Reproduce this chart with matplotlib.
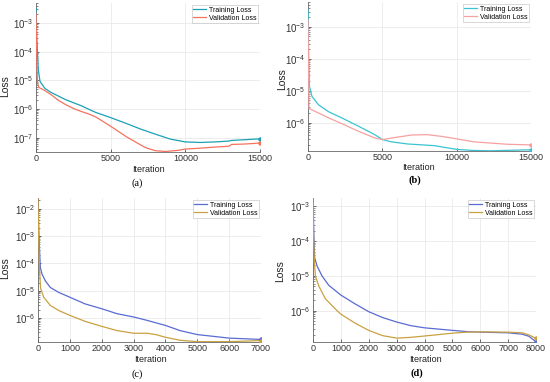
import matplotlib.pyplot as plt
from matplotlib.ticker import LogLocator, NullFormatter

plt.rcParams['font.family'] = ['Liberation Sans', 'DejaVu Sans']
plt.rcParams['mathtext.fontset'] = 'custom'
plt.rcParams['mathtext.rm'] = 'Liberation Sans'
plt.rcParams['mathtext.it'] = 'Liberation Sans:italic'

# ---- data ----
# (a)
it_a_train = [0, 40, 90, 155, 270, 600, 1000, 1400, 2000, 3000, 3500, 4000, 5000, 6000,
              7000, 8000, 9000, 10000, 11000, 12000, 12900, 13100, 14000, 15000]
loss_a_train = [3.2e-3, 5.0e-4, 1.15e-4, 2.3e-5, 9.1e-6, 5.2e-6, 3.8e-6, 3.0e-6, 2.1e-6, 1.32e-6,
                1.0e-6, 7.6e-7, 5.0e-7, 3.2e-7, 2.0e-7, 1.32e-7, 8.9e-8, 7.1e-8, 6.8e-8, 7.1e-8,
                7.6e-8, 8.0e-8, 8.5e-8, 9.1e-8]
it_a_val = [0, 30, 60, 100, 200, 500, 1000, 1500, 2000, 2500, 3000, 3500, 4000, 5000, 6000,
            7000, 7300, 7500, 8000, 8700, 9500, 10000, 11000, 12000, 12900, 13100, 14000, 15000]
loss_a_val = [2.2e-3, 3.2e-4, 3.2e-5, 7.9e-6, 5.6e-6, 4.7e-6, 3.2e-6, 2.0e-6, 1.41e-6, 1.05e-6,
              8.3e-7, 6.8e-7, 5.3e-7, 2.5e-7, 1.12e-7, 5.6e-8, 4.6e-8, 4.2e-8, 3.5e-8, 3.3e-8,
              3.6e-8, 4.0e-8, 4.3e-8, 4.7e-8, 5.0e-8, 5.8e-8, 6.0e-8, 6.5e-8]

# (b)
it_b_train = [0, 50, 100, 267, 711, 1378, 2267, 3378, 4490, 5000, 5600, 6710, 8490, 10000,
              11150, 12270, 15000]
loss_b_train = [3.4e-3, 1.0e-4, 1.35e-5, 6.6e-6, 3.6e-6, 2.2e-6, 1.41e-6, 7.8e-7, 4.2e-7, 2.95e-7,
                2.5e-7, 2.14e-7, 1.9e-7, 1.45e-7, 1.34e-7, 1.31e-7, 1.41e-7]
it_b_val = [0, 40, 70, 260, 711, 1378, 2267, 3378, 4490, 5000, 6000, 7000, 8000, 9000, 10000,
            11150, 13380, 15000]
loss_b_val = [1.66e-3, 3.2e-5, 2.8e-6, 2.5e-6, 2.0e-6, 1.41e-6, 9.3e-7, 5.4e-7, 3.3e-7, 2.95e-7,
              3.5e-7, 4.1e-7, 4.2e-7, 3.7e-7, 3.1e-7, 2.5e-7, 2.1e-7, 2.0e-7]

# (c)
it_c_train = [0, 30, 73, 125, 230, 387, 650, 1000, 1480, 2000, 2480, 3000, 3420, 4000, 4460,
              5000, 6000, 7000]
loss_c_train = [2.4e-2, 1.0e-3, 7.1e-5, 4.1e-5, 2.3e-5, 1.32e-5, 8.7e-6, 5.8e-6, 3.3e-6, 2.2e-6,
                1.45e-6, 1.1e-6, 8.3e-7, 5.4e-7, 3.5e-7, 2.5e-7, 1.86e-7, 1.66e-7]
it_c_val = [0, 20, 50, 80, 178, 387, 650, 1000, 1480, 2000, 2480, 3000, 3420, 3700, 4000, 4460,
            5000, 6000, 7000]
loss_c_val = [2.4e-2, 1.0e-3, 5.0e-5, 1.26e-5, 5.8e-6, 2.9e-6, 1.9e-6, 1.26e-6, 7.6e-7, 5.0e-7,
              3.5e-7, 2.8e-7, 2.8e-7, 2.5e-7, 2.0e-7, 1.55e-7, 1.38e-7, 1.38e-7, 1.51e-7]

# (d)
it_d_train = [0, 30, 60, 143, 322, 561, 1000, 1500, 2000, 2500, 3000, 3500, 4000, 5000, 5500,
              6000, 7000, 7500, 7750, 8000]
loss_d_train = [1.74e-3, 1.6e-4, 3.3e-5, 1.95e-5, 1.0e-5, 5.4e-6, 2.8e-6, 1.58e-6, 9.3e-7, 6.3e-7,
                4.7e-7, 3.7e-7, 3.2e-7, 2.7e-7, 2.5e-7, 2.4e-7, 2.3e-7, 2.1e-7, 1.82e-7, 1.26e-7]
it_d_val = [0, 25, 50, 84, 203, 442, 860, 1000, 1500, 2000, 2500, 3000, 3500, 4000, 5000, 5500,
            6000, 7000, 7500, 7750, 8000]
loss_d_val = [1.74e-3, 1.0e-4, 2.5e-5, 1.0e-5, 5.2e-6, 2.2e-6, 1.0e-6, 7.9e-7, 4.4e-7, 2.7e-7,
              1.9e-7, 1.62e-7, 1.7e-7, 1.86e-7, 2.24e-7, 2.4e-7, 2.45e-7, 2.4e-7, 2.3e-7, 2.0e-7,
              1.58e-7]

W, H = 550, 382
fig = plt.figure(figsize=(W / 100, H / 100), dpi=100)


def px_axes(left, top, right, bottom):
    return fig.add_axes([left / W, 1 - bottom / H, (right - left) / W, (bottom - top) / H])


panels = [
    dict(box=(36, 3, 260, 152), xmax=15000, xticks=[0, 5000, 10000, 15000],
         ylim=(3.16e-8, 5e-3), yexp=[-7, -6, -5, -4, -3], c=('#1ba1b4', '#f4735f'),
         tr=(it_a_train, loss_a_train), va=(it_a_val, loss_a_val),
         xl=(148, 169), cap=(137, 183, '(a)', 'normal'), yl=(-0.116, 0.44)),
    dict(box=(308, 2, 531, 151), xmax=15000, xticks=[0, 5000, 10000, 15000],
         ylim=(1.29e-7, 6e-3), yexp=[-6, -5, -4, -3], c=('#3bc3d3', '#f7a0a0'),
         tr=(it_b_train, loss_b_train), va=(it_b_val, loss_b_val),
         xl=(418, 168), cap=(415, 180, '(b)', 'bold'), yl=(-0.094, 0.48)),
    dict(box=(38, 198, 261, 342), xmax=7000, xticks=list(range(0, 7001, 1000)),
         ylim=(1.34e-7, 2.45e-2), yexp=[-6, -5, -4, -3, -2], c=('#5a6bd1', '#c9a141'),
         tr=(it_c_train, loss_c_train), va=(it_c_val, loss_c_val),
         xl=(150, 360), cap=(137, 374, '(c)', 'normal'), yl=(-0.126, 0.51)),
    dict(box=(313, 198, 536, 342), xmax=8000, xticks=list(range(0, 8001, 1000)),
         ylim=(1.25e-7, 1.74e-3), yexp=[-6, -5, -4, -3], c=('#5a6bd1', '#c9a141'),
         tr=(it_d_train, loss_d_train), va=(it_d_val, loss_d_val),
         xl=(425, 360), cap=(417, 373, '(d)', 'bold'), yl=(-0.126, 0.49)),
]

for p in panels:
    ax = px_axes(*p['box'])
    ax.set_yscale('log')
    ct, cv = p['c']
    ax.plot(*p['tr'], color=ct, lw=0.9, label='Training Loss', zorder=3)
    ax.plot(*p['va'], color=cv, lw=0.9, label='Validation Loss', zorder=3)
    ax.plot(p['tr'][0][-1], p['tr'][1][-1], 'o', color=ct, ms=2.2, zorder=4)
    ax.plot(p['va'][0][-1], p['va'][1][-1], 'o', color=cv, ms=2.2, zorder=4)
    ax.set_xlim(0, p['xmax'])
    ax.set_ylim(*p['ylim'])
    ax.set_xticks(p['xticks'])
    ax.set_yticks([10.0 ** e for e in p['yexp']])
    ax.yaxis.set_minor_locator(LogLocator(base=10, subs=range(2, 10)))
    ax.yaxis.set_minor_formatter(NullFormatter())
    ax.tick_params(which='both', direction='in', colors='#333333', pad=2)
    ax.tick_params(axis='y', labelsize=7)
    ax.tick_params(axis='x', labelsize=6.5, pad=1.5)
    ax.tick_params(which='major', length=2.5, width=0.5)
    ax.tick_params(which='minor', length=1.3, width=0.4)
    ax.grid(True, which='major', color='#e6e6e6', lw=0.5)
    ax.set_axisbelow(True)
    for s in ('top', 'right'):
        ax.spines[s].set_visible(False)
    for s in ('left', 'bottom'):
        ax.spines[s].set_color('#666666')
        ax.spines[s].set_linewidth(0.6)
    ax.set_ylabel('Loss', fontsize=7.5, color='#222222')
    ax.yaxis.set_label_coords(*p['yl'])
    leg = ax.legend(loc='upper right', fontsize=5, frameon=True, fancybox=False,
                    handlelength=1.8, handletextpad=0.4, borderpad=0.25, labelspacing=0.1,
                    borderaxespad=0.3)
    leg.get_frame().set_edgecolor('#bbbbbb')
    leg.get_frame().set_linewidth(0.5)
    fig.text(p['xl'][0] / W, 1 - p['xl'][1] / H, 'Iteration', fontsize=6.5,
             color='#222222', ha='center', va='center')
    cx, cy, txt, wt = p['cap']
    fig.text(cx / W, 1 - cy / H, txt, fontsize=7.5, family='Liberation Serif',
             weight=wt, ha='center', va='center')

fig.savefig('out.png', dpi=100)
